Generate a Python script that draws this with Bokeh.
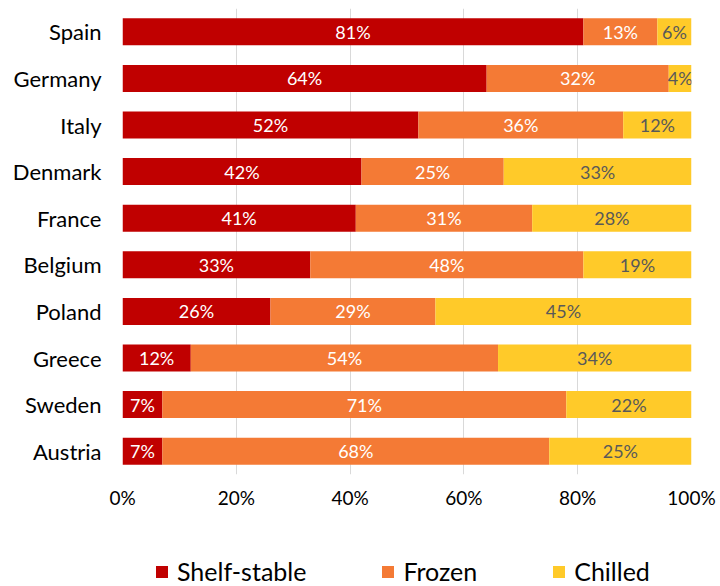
from bokeh.plotting import figure
from bokeh.layouts import column
from bokeh.models import ColumnDataSource, FactorRange, Range1d, Legend, LegendItem, FixedTicker
from bokeh.core.properties import value
from bokeh.embed import file_html
from bokeh.resources import INLINE

countries = ["Spain", "Germany", "Italy", "Denmark", "France", "Belgium", "Poland", "Greece", "Sweden", "Austria"]
shelf_stable = [81, 64, 52, 42, 41, 33, 26, 12, 7, 7]
frozen = [13, 32, 36, 25, 31, 48, 29, 54, 71, 68]
chilled = [6, 4, 12, 33, 28, 19, 45, 34, 22, 25]
series_names = ["Shelf-stable", "Frozen", "Chilled"]
colors = ["#C00000", "#F47A35", "#FFCA29"]
label_colors = ["white", "white", "#595959"]
tick_values = [0, 0.2, 0.4, 0.6, 0.8, 1.0]
tick_labels = ["0%", "20%", "40%", "60%", "80%", "100%"]

FONT = "Lato"

data = {"country": countries}
series = [shelf_stable, frozen, chilled]
keys = ["s", "f", "c"]
for k, vals in zip(keys, series):
    data[k] = [v / 100 for v in vals]
source = ColumnDataSource(data)

p = figure(width=720, height=514, output_backend="svg", toolbar_location=None,
           y_range=FactorRange(factors=list(reversed(countries))),
           x_range=Range1d(0, 1),
           min_border_left=122, min_border_right=29, min_border_top=8, min_border_bottom=40)

renderers = p.hbar_stack(keys, y="country", height=0.58, color=colors, source=source, line_color=None)

# labels
for i, (k, vals) in enumerate(zip(keys, series)):
    starts = [sum(s[j] for s in series[:i]) for j in range(len(countries))]
    xs = [(st + v / 2) / 100 for st, v in zip(starts, vals)]
    lsrc = ColumnDataSource(dict(x=xs, y=countries, t=[f"{v}%" for v in vals]))
    p.text(x="x", y="y", text="t", source=lsrc, text_align="center", text_baseline="middle",
           text_font=value(FONT), text_font_size="18px", text_color=label_colors[i])

p.outline_line_color = None
p.ygrid.grid_line_color = None
p.xgrid.grid_line_color = "#D9D9D9"
p.xgrid.grid_line_width = 1

p.xaxis.ticker = FixedTicker(ticks=tick_values)
p.xaxis.major_label_overrides = {v: l for v, l in zip(tick_values, tick_labels)}
p.xaxis.axis_line_color = None
p.xaxis.major_tick_line_color = None
p.xaxis.minor_tick_line_color = None
p.xaxis.major_tick_in = 0
p.xaxis.major_tick_out = 0
p.xaxis.major_label_text_font = FONT
p.xaxis.major_label_text_font_size = "19px"
p.xaxis.major_label_text_color = "black"
p.xaxis.major_label_standoff = 11

p.yaxis.axis_line_color = None
p.yaxis.major_tick_line_color = None
p.yaxis.minor_tick_line_color = None
p.yaxis.major_tick_in = 0
p.yaxis.major_tick_out = 0
p.yaxis.major_label_text_font = FONT
p.yaxis.major_label_text_font_size = "22px"
p.yaxis.major_label_text_color = "black"
p.yaxis.major_label_standoff = 21

# legend strip (proxy bars sit outside the visible range; only their legend swatches show)
lg = figure(width=720, height=72, output_backend="svg", toolbar_location=None,
            x_range=Range1d(0, 1), y_range=Range1d(0, 1),
            x_axis_type=None, y_axis_type=None,
            min_border_left=122, min_border_right=29, min_border_top=0, min_border_bottom=0)
lg.outline_line_color = None
lg.xgrid.visible = False
lg.ygrid.visible = False
leg_renderers = [lg.hbar(y=[-5], right=[1], height=0.5, color=c, line_color=None) for c in colors]

legend = Legend(items=[LegendItem(label=n, renderers=[r]) for n, r in zip(series_names, leg_renderers)],
                orientation="horizontal", location=(32, 0),
                label_text_font=FONT, label_text_font_size="25px", label_text_color="black",
                glyph_width=15, glyph_height=15, spacing=74, label_standoff=8,
                border_line_color=None, background_fill_alpha=0, margin=0, padding=0)
lg.add_layout(legend, "center")

layout = column(p, lg, spacing=0)
open("out.html", "w").write(file_html(layout, INLINE))
